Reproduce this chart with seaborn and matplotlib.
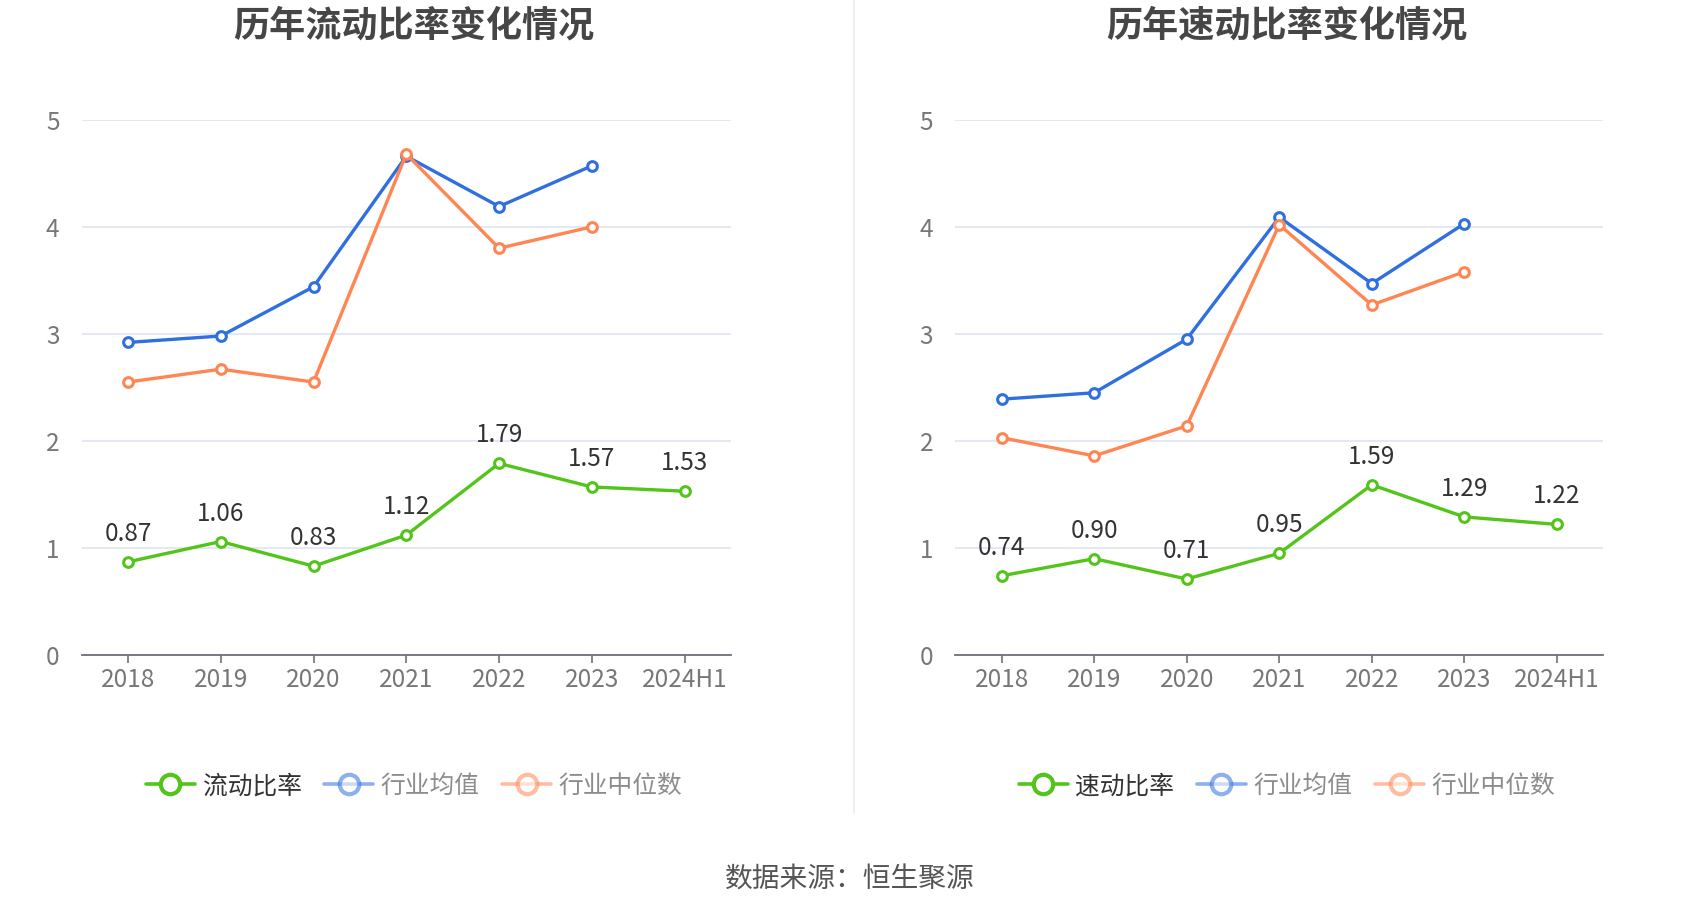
import numpy as np
import pandas as pd
import matplotlib
matplotlib.use("Agg")
import matplotlib.pyplot as plt
import seaborn as sns
from matplotlib.lines import Line2D

sns.set_theme(style="white")
plt.rcParams['font.family'] = ['Noto Sans CJK SC', 'DejaVu Sans']

categories = ["2018", "2019", "2020", "2021", "2022", "2023", "2024H1"]

current_ratio = [0.87, 1.06, 0.83, 1.12, 1.79, 1.57, 1.53]
current_ind_mean = [2.92, 2.98, 3.44, 4.66, 4.19, 4.57]
current_ind_median = [2.55, 2.67, 2.55, 4.68, 3.80, 4.00]

quick_ratio = [0.74, 0.90, 0.71, 0.95, 1.59, 1.29, 1.22]
quick_ind_mean = [2.39, 2.45, 2.95, 4.09, 3.47, 4.03]
quick_ind_median = [2.03, 1.86, 2.14, 4.02, 3.27, 3.58]

titles = ["历年流动比率变化情况", "历年速动比率变化情况"]
main_names = ["流动比率", "速动比率"]
mean_name = "行业均值"
median_name = "行业中位数"
source = "数据来源：恒生聚源"

GREEN = "#52C41A"
BLUE = "#2F6FE0"
ORANGE = "#FF8552"
GRID = "#E0E6F1"
AXIS = "#6E7079"

fig = plt.figure(figsize=(17, 9.18), dpi=100)
axes = [fig.add_axes([0.048, 0.2865, 0.382, 0.583]),
        fig.add_axes([0.562, 0.2865, 0.381, 0.583])]

datasets = [(current_ratio, current_ind_mean, current_ind_median),
            (quick_ratio, quick_ind_mean, quick_ind_median)]

pos = np.arange(len(categories))

for i, (ax, (main, mean, med)) in enumerate(zip(axes, datasets)):
    for vals, col, z in [(mean, BLUE, 3), (med, ORANGE, 4), (main, GREEN, 5)]:
        sns.lineplot(x=pos[:len(vals)], y=vals, ax=ax, color=col, linewidth=2.4,
                     marker='o', markersize=7, markerfacecolor='white',
                     markeredgecolor=col, markeredgewidth=2.2, zorder=z)
    for x, v in zip(pos, main):
        ax.text(x, v + 0.14, f"{v:.2f}", ha='center', va='bottom', fontsize=17.5, color='#333333')
    ax.set_xlim(-0.5, len(categories) - 0.5)
    ax.set_ylim(0, 5)
    ax.set_yticks([0, 1, 2, 3, 4, 5])
    ax.set_xticks(pos)
    ax.set_xticklabels(categories)
    ax.yaxis.grid(True, color=GRID, linewidth=1.3)
    ax.xaxis.grid(False)
    for s in ['top', 'right', 'left']:
        ax.spines[s].set_visible(False)
    ax.spines['bottom'].set_color(AXIS)
    ax.spines['bottom'].set_linewidth(1.3)
    ax.tick_params(axis='x', colors=AXIS, labelcolor='#777777', labelsize=17.5, length=6,
                   width=1.2, direction='out', bottom=True, pad=3)
    ax.tick_params(axis='y', labelcolor='#777777', labelsize=17.5, length=0, pad=16)
    ax.set_xlabel("")
    ax.set_ylabel("")
    ax.set_title(titles[i], fontsize=26, fontweight='bold', color='#464646', pad=0,
                 x=0.512, y=1.155)

    handles = [
        Line2D([0], [0], color=GREEN, linewidth=2.6, marker='o', markersize=14,
               markerfacecolor='white', markeredgecolor=GREEN, markeredgewidth=3),
        Line2D([0], [0], color=BLUE, alpha=0.55, linewidth=2.6, marker='o', markersize=14,
               markerfacecolor='white', markeredgecolor=BLUE, markeredgewidth=3),
        Line2D([0], [0], color=ORANGE, alpha=0.55, linewidth=2.6, marker='o', markersize=14,
               markerfacecolor='white', markeredgecolor=ORANGE, markeredgewidth=3),
    ]
    leg = ax.legend(handles, [main_names[i], mean_name, median_name], loc='center',
                    bbox_to_anchor=(0.512, -0.245), ncol=3, frameon=False, fontsize=17.8,
                    handlelength=2.0, handletextpad=0.3, columnspacing=0.9)
    for j, t in enumerate(leg.get_texts()):
        t.set_color('#333333' if j == 0 else '#8C8C8C')

# divider
fig.add_artist(Line2D([854 / 1700, 854 / 1700], [1 - 813 / 918, 1.0],
                      transform=fig.transFigure, color='#EEEEEE', linewidth=1.2))

fig.text(0.5, 1 - 880 / 918, source, ha='center', va='center', fontsize=20, color='#555555')

fig.savefig("out.png", dpi=100, facecolor='white')
